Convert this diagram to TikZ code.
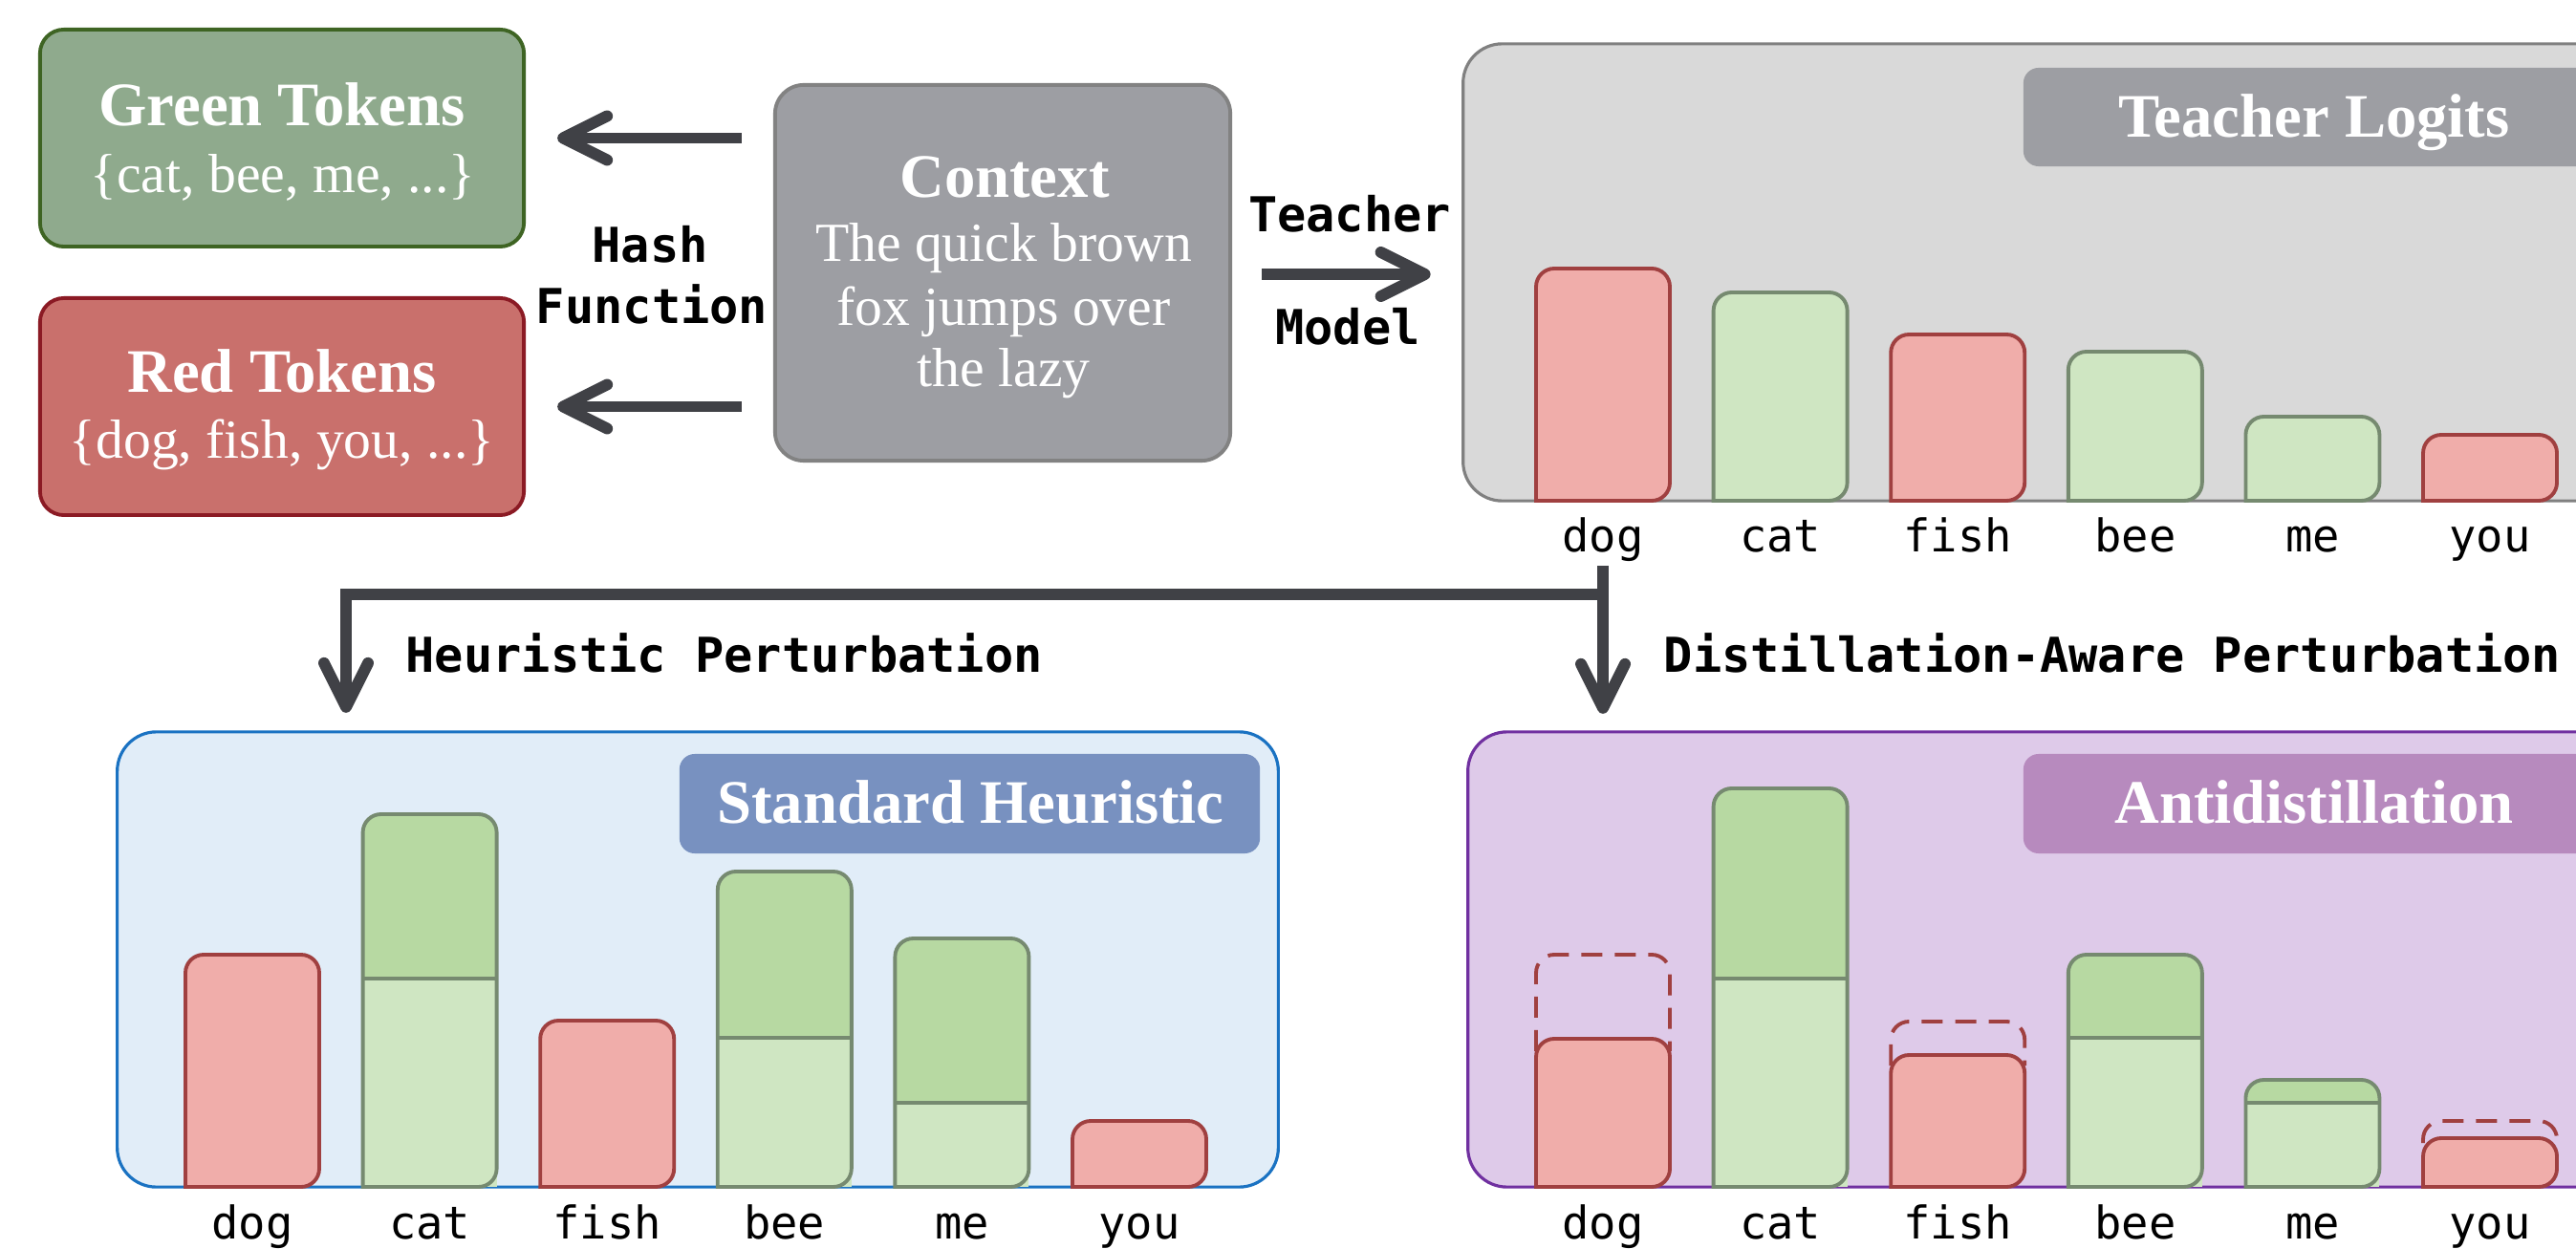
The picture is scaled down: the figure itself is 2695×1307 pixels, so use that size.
\documentclass[tikz,border=0pt]{standalone}
\usepackage{fontspec}
\setmainfont{Liberation Serif}
\setmonofont{DejaVu Sans Mono}
\usetikzlibrary{arrows.meta,calc}
\definecolor{gfill}{HTML}{8FAA8D}
\definecolor{gborder}{HTML}{3E6423}
\definecolor{rfill}{HTML}{C9706C}
\definecolor{rborder}{HTML}{8B1A24}
\definecolor{cfill}{HTML}{9D9EA3}
\definecolor{cborder}{HTML}{828282}
\definecolor{arrowc}{HTML}{404146}
\definecolor{tfill}{HTML}{D9D9D9}
\definecolor{tborder}{HTML}{808080}
\definecolor{tlabel}{HTML}{9D9EA3}
\definecolor{barred}{HTML}{F0ADAA}
\definecolor{barredb}{HTML}{A04040}
\definecolor{barlg}{HTML}{CFE6C2}
\definecolor{bardg}{HTML}{B7D9A2}
\definecolor{bargb}{HTML}{768A70}
\definecolor{hfill}{HTML}{E1EDF8}
\definecolor{hborder}{HTML}{1A72C2}
\definecolor{hlabel}{HTML}{7891C0}
\definecolor{afill}{HTML}{DECAE9}
\definecolor{aborder}{HTML}{7030A0}
\definecolor{alabel}{HTML}{B78ABE}
\newcommand\redbar[3]{\filldraw[fill=barred, draw=barredb, line width=1.1pt, rounded corners=0.19cm] ({#1-70},#2) -- ({#1-70},{#2-#3}) -- ({#1+70},{#2-#3}) -- ({#1+70},#2) [sharp corners] -- cycle;}
\newcommand\lightbar[3]{\filldraw[fill=barlg, draw=bargb, line width=1.1pt, rounded corners=0.19cm] ({#1-70},#2) -- ({#1-70},{#2-#3}) -- ({#1+70},{#2-#3}) -- ({#1+70},#2) [sharp corners] -- cycle;}
\newcommand\greenbar[4]{%
 \fill[fill=bardg, rounded corners=0.19cm] ({#1-70},#2) -- ({#1-70},{#2-#4}) -- ({#1+70},{#2-#4}) -- ({#1+70},#2) [sharp corners] -- cycle;
 \fill[barlg] ({#1-70},#2) rectangle ({#1+70},{#2-#3});
 \draw[draw=bargb, line width=1.1pt] ({#1-70},{#2-#3}) -- ({#1+70},{#2-#3});
 \draw[draw=bargb, line width=1.1pt, rounded corners=0.19cm] ({#1-70},#2) -- ({#1-70},{#2-#4}) -- ({#1+70},{#2-#4}) -- ({#1+70},#2) [sharp corners] -- cycle;}
\newcommand\dashbar[3]{\draw[draw=barredb, line width=1.1pt, dash pattern=on 0.22cm off 0.13cm, rounded corners=0.19cm] ({#1-70},#2) -- ({#1-70},#3) -- ({#1+70},#3) -- ({#1+70},#2);}
\begin{document}
\begin{tikzpicture}[x=0.01cm,y=-0.01cm,
 box/.style={rounded corners=0.25cm, line width=1.1pt, inner sep=0pt, outer sep=0pt},
 panel/.style={rounded corners=0.41cm, line width=0.9pt, inner sep=0pt, outer sep=0pt},
 lbl/.style={rounded corners=0.16cm, inner sep=0pt, outer sep=0pt},
 ttl/.style={text=white, font=\fontsize{18.4}{22}\selectfont\bfseries, inner sep=0pt, anchor=base},
 bdy/.style={text=white, font=\fontsize{16.4}{20}\selectfont, inner sep=0pt, anchor=base},
 mono/.style={font=\fontsize{14.3}{17}\selectfont\ttfamily\bfseries, inner sep=0pt, anchor=base},
 tok/.style={font=\fontsize{13.4}{16}\selectfont\ttfamily, inner sep=0pt, anchor=base},
 bigarrow/.style={draw=arrowc, line width=3.4pt, -{Straight Barb[length=4.6mm,width=4.6mm,round]}},
]
\useasboundingbox (0,0) rectangle (2695,1307);
\clip (0,0) rectangle (2695,1307);
\fill[white] (0,0) rectangle (2695,1307);

% top-left boxes
\node[box, fill=gfill, draw=gborder, minimum width=5.06cm, minimum height=2.27cm] (green) at (295,144.5) {};
\node[box, fill=rfill, draw=rborder, minimum width=5.06cm, minimum height=2.27cm] (red) at (295,425.5) {};
\node[box, rounded corners=0.3cm, fill=cfill, draw=cborder, minimum width=4.76cm, minimum height=3.93cm] (ctx) at (1049,285.5) {};

\node[ttl] (greent) at (295,132) {Green Tokens};
\node[bdy] (greenb) at (296,202) {\{cat, bee, me, ...\}};
\node[ttl] (redt) at (295,411) {Red Tokens};
\node[bdy] (redb) at (295,480) {\{dog, fish, you, ...\}};
\node[ttl] (ctxt) at (1051,207) {Context};
\node[bdy] (ctx1) at (1050,274) {The quick brown};
\node[bdy] (ctx2) at (1050,341) {fox jumps over};
\node[bdy] (ctx3) at (1050,405) {the lazy};

\node[mono] (hash) at (680,275) {Hash};
\node[mono] (func) at (682,339) {Function};
\node[mono] (teach) at (1412,243) {Teacher};
\node[mono] (model) at (1410,361) {Model};

% panels
\node[panel, fill=tfill, draw=tborder, minimum width=12.29cm, minimum height=4.78cm] (tpanel) at (2145.5,285) {};
\node[panel, fill=hfill, draw=hborder, minimum width=12.14cm, minimum height=4.76cm] (hpanel) at (730,1004) {};
\node[panel, fill=afill, draw=aborder, minimum width=12.24cm, minimum height=4.76cm] (apanel) at (2148,1004) {};

\node[lbl, fill=tlabel, minimum width=6.08cm, minimum height=1.03cm] (tlab) at (2421,122.5) {};
\node[ttl] (tlabt) at (2421,143.5) {Teacher Logits};
\node[lbl, fill=hlabel, minimum width=6.07cm, minimum height=1.04cm] (hlab) at (1014.5,841) {};
\node[ttl] (hlabt) at (1015.5,861) {Standard Heuristic};
\node[lbl, fill=alabel, minimum width=6.08cm, minimum height=1.04cm] (alab) at (2421,841) {};
\node[ttl] (alabt) at (2421,861) {Antidistillation};

% arrows
\draw[bigarrow] ($(ctx.west |- green.east)+(-35,0)$) -- ($(green.east)+(35,0)$);
\draw[bigarrow] ($(ctx.west |- red.east)+(-35,0)$) -- ($(red.east)+(35,0)$);
\draw[bigarrow] ($(ctx.east)+(33,1.5)$) -- ($(tpanel.west |- ctx.east)+(-34,1.5)$);

% teacher bars
\redbar{1677}{524}{243}
\lightbar{1862.6}{524}{218}
\redbar{2048.2}{524}{174}
\lightbar{2233.8}{524}{156}
\lightbar{2419.4}{524}{88}
\redbar{2605}{524}{69}

% heuristic bars
\redbar{264}{1242}{243}
\greenbar{449.6}{1242}{218}{390}
\redbar{635.2}{1242}{174}
\greenbar{820.8}{1242}{156}{330}
\greenbar{1006.4}{1242}{88}{260}
\redbar{1192}{1242}{69}

% antidistillation bars
\dashbar{1677}{1100}{999}
\redbar{1677}{1242}{155}
\greenbar{1862.6}{1242}{218}{417}
\dashbar{2048.2}{1115}{1069}
\redbar{2048.2}{1242}{138}
\greenbar{2233.8}{1242}{156}{243}
\greenbar{2419.4}{1242}{88}{112}
\dashbar{2605}{1196}{1173}
\redbar{2605}{1242}{51}

% token labels
\foreach \w [count=\i from 0] in {dog,cat,fish,bee,me,you} {
  \node[tok] (t\w) at ({1677+185.6*\i},578) {\w};
  \node[tok] (h\w) at ({264+185.6*\i},1296) {\w};
  \node[tok] (a\w) at ({1677+185.6*\i},1296) {\w};
}

% perturbation connectors
\coordinate (hl) at (362,622);
\draw[bigarrow] ($(tdog.south)+(0,3)$) -- ($(tdog.south |- apanel.north)+(0,-19)$);
\draw[bigarrow] (tdog.south |- hl) -- (hl) -- ($(hl |- hpanel.north)+(0,-20)$);

\node[mono, anchor=base west] (hpert) at (424,704) {Heuristic Perturbation};
\node[mono, anchor=base west] (apert) at (1740,704) {Distillation-Aware Perturbation};
\end{tikzpicture}
\end{document}
